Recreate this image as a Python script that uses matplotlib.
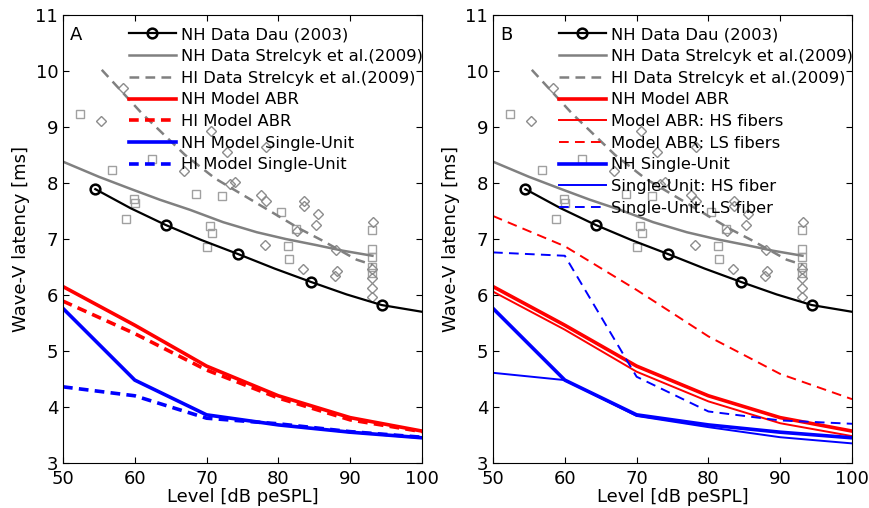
import matplotlib
matplotlib.use('Agg')
import matplotlib.pyplot as plt

plt.rcParams['font.family'] = 'DejaVu Sans'
plt.rcParams['font.size'] = 13
plt.rcParams['lines.scale_dashes'] = False

levels = [50, 60, 70, 80, 90, 100]

# measured data (gray markers)
sq_x = [52.3, 56.8, 62.4, 59.9, 60.0, 58.8, 68.5, 72.2, 70.5, 70.8, 70.0,
        80.4, 82.4, 81.3, 81.5, 93.1, 93.1, 93.1, 93.1, 93.1]
sq_y = [9.23, 8.23, 8.42, 7.71, 7.64, 7.35, 7.80, 7.77, 7.24, 7.10, 6.85,
        7.48, 7.17, 6.87, 6.64, 7.16, 6.82, 6.67, 6.50, 6.40]
dm_x = [55.3, 58.4, 70.6, 66.8, 72.9, 78.3, 73.2, 74.0, 77.6, 78.3, 83.6,
        83.6, 85.5, 85.3, 82.6, 78.2, 88.0, 83.4, 88.1, 87.9, 93.2, 93.1,
        93.1, 93.1, 93.1]
dm_y = [9.11, 9.69, 8.93, 8.21, 8.56, 8.64, 7.98, 8.02, 7.79, 7.68, 7.67,
        7.58, 7.45, 7.25, 7.14, 6.90, 6.80, 6.47, 6.43, 6.33, 7.31, 6.46,
        6.30, 6.12, 5.97]

# Dau (2003)
dau_x = [54.5, 59.4, 64.3, 69.3, 74.4, 79.5, 84.6, 89.5, 94.4, 100]
dau_y = [7.89, 7.55, 7.25, 6.98, 6.73, 6.47, 6.23, 6.01, 5.82, 5.70]

# Strelcyk et al. (2009)
nh_str_x = [50, 55, 59.3, 63.5, 67.7, 72.3, 77.0, 81.0, 85.3, 89.0, 93.1]
nh_str_y = [8.38, 8.11, 7.90, 7.70, 7.52, 7.30, 7.12, 7.00, 6.89, 6.79, 6.70]
hi_str_x = [55.4, 61.0, 67.0, 71.2, 75.8, 83.0, 86.0, 90.9, 93.1]
hi_str_y = [10.02, 9.24, 8.50, 8.08, 7.73, 7.18, 6.98, 6.63, 6.54]

# model results
nh_abr = [6.15, 5.46, 4.73, 4.20, 3.81, 3.57]
hi_abr = [5.89, 5.31, 4.66, 4.16, 3.77, 3.56]
nh_su = [5.76, 4.48, 3.86, 3.68, 3.55, 3.45]
hi_su = [4.36, 4.20, 3.80, 3.70, 3.56, 3.46]
abr_hs = [6.06, 5.38, 4.63, 4.10, 3.71, 3.48]
abr_ls = [7.41, 6.87, 6.09, 5.26, 4.59, 4.14]
su_hs = [4.61, 4.48, 3.84, 3.64, 3.46, 3.35]
su_ls = [6.76, 6.70, 4.54, 3.92, 3.76, 3.70]

dash = (7, 4.5)
dau_marks = [0, 2, 4, 6, 8]


def draw_data(ax):
    ax.plot(sq_x, sq_y, 's', ms=5.5, mfc='none', mec='#a0a0a0', mew=1.0, zorder=1)
    ax.plot(dm_x, dm_y, 'D', ms=5.5, mfc='none', mec='#8c8c8c', mew=1.0, zorder=1)
    ax.plot(dau_x, dau_y, '-o', color='k', lw=1.6, ms=7, mfc='none', mew=1.8,
            markevery=dau_marks, label='NH Data Dau (2003)')
    ax.plot(nh_str_x, nh_str_y, '-', color='#808080', lw=1.8,
            label='NH Data Strelcyk et al.(2009)')
    ax.plot(hi_str_x, hi_str_y, '--', color='#808080', lw=1.8, dashes=dash,
            label='HI Data Strelcyk et al.(2009)')


def style(ax, letter):
    ax.set_xlim(50, 100)
    ax.set_ylim(3, 11)
    ax.set_xticks(levels)
    ax.set_yticks(range(3, 12))
    ax.tick_params(direction='in', top=True, right=True, length=4, width=0.8)
    ax.tick_params(axis='x', pad=5)
    ax.set_xlabel('Level [dB peSPL]', labelpad=0)
    ax.set_ylabel('Wave-V latency [ms]')
    ax.text(0.02, 0.975, letter, transform=ax.transAxes, va='top', ha='left')
    ax.legend(loc='upper right', bbox_to_anchor=(1.012, 0.98), frameon=False,
              handlelength=2.9, labelspacing=0.41, handletextpad=0.3,
              borderaxespad=0.0, borderpad=0.2, fontsize=11.8)


fig = plt.figure(figsize=(8.7, 5.08), dpi=100)
axA = fig.add_axes([0.0724, 0.0886, 0.4126, 0.882])
axB = fig.add_axes([0.5667, 0.0886, 0.4126, 0.882])

# panel A
draw_data(axA)
axA.plot(levels, nh_abr, '-', color='r', lw=2.6, label='NH Model ABR')
axA.plot(levels, hi_abr, '--', color='r', lw=2.6, dashes=dash, label='HI Model ABR')
axA.plot(levels, nh_su, '-', color='b', lw=2.6, label='NH Model Single-Unit')
axA.plot(levels, hi_su, '--', color='b', lw=2.6, dashes=dash, label='HI Model Single-Unit')
style(axA, 'A')

# panel B
draw_data(axB)
axB.plot(levels, nh_abr, '-', color='r', lw=2.6, label='NH Model ABR')
axB.plot(levels, abr_hs, '-', color='r', lw=1.4, label='Model ABR: HS fibers')
axB.plot(levels, abr_ls, '--', color='r', lw=1.4, dashes=dash, label='Model ABR: LS fibers')
axB.plot(levels, nh_su, '-', color='b', lw=2.6, label='NH Single-Unit')
axB.plot(levels, su_hs, '-', color='b', lw=1.4, label='Single-Unit: HS fiber')
axB.plot(levels, su_ls, '--', color='b', lw=1.4, dashes=dash, label='Single-Unit: LS fiber')
style(axB, 'B')

fig.savefig('out.png', dpi=100)
